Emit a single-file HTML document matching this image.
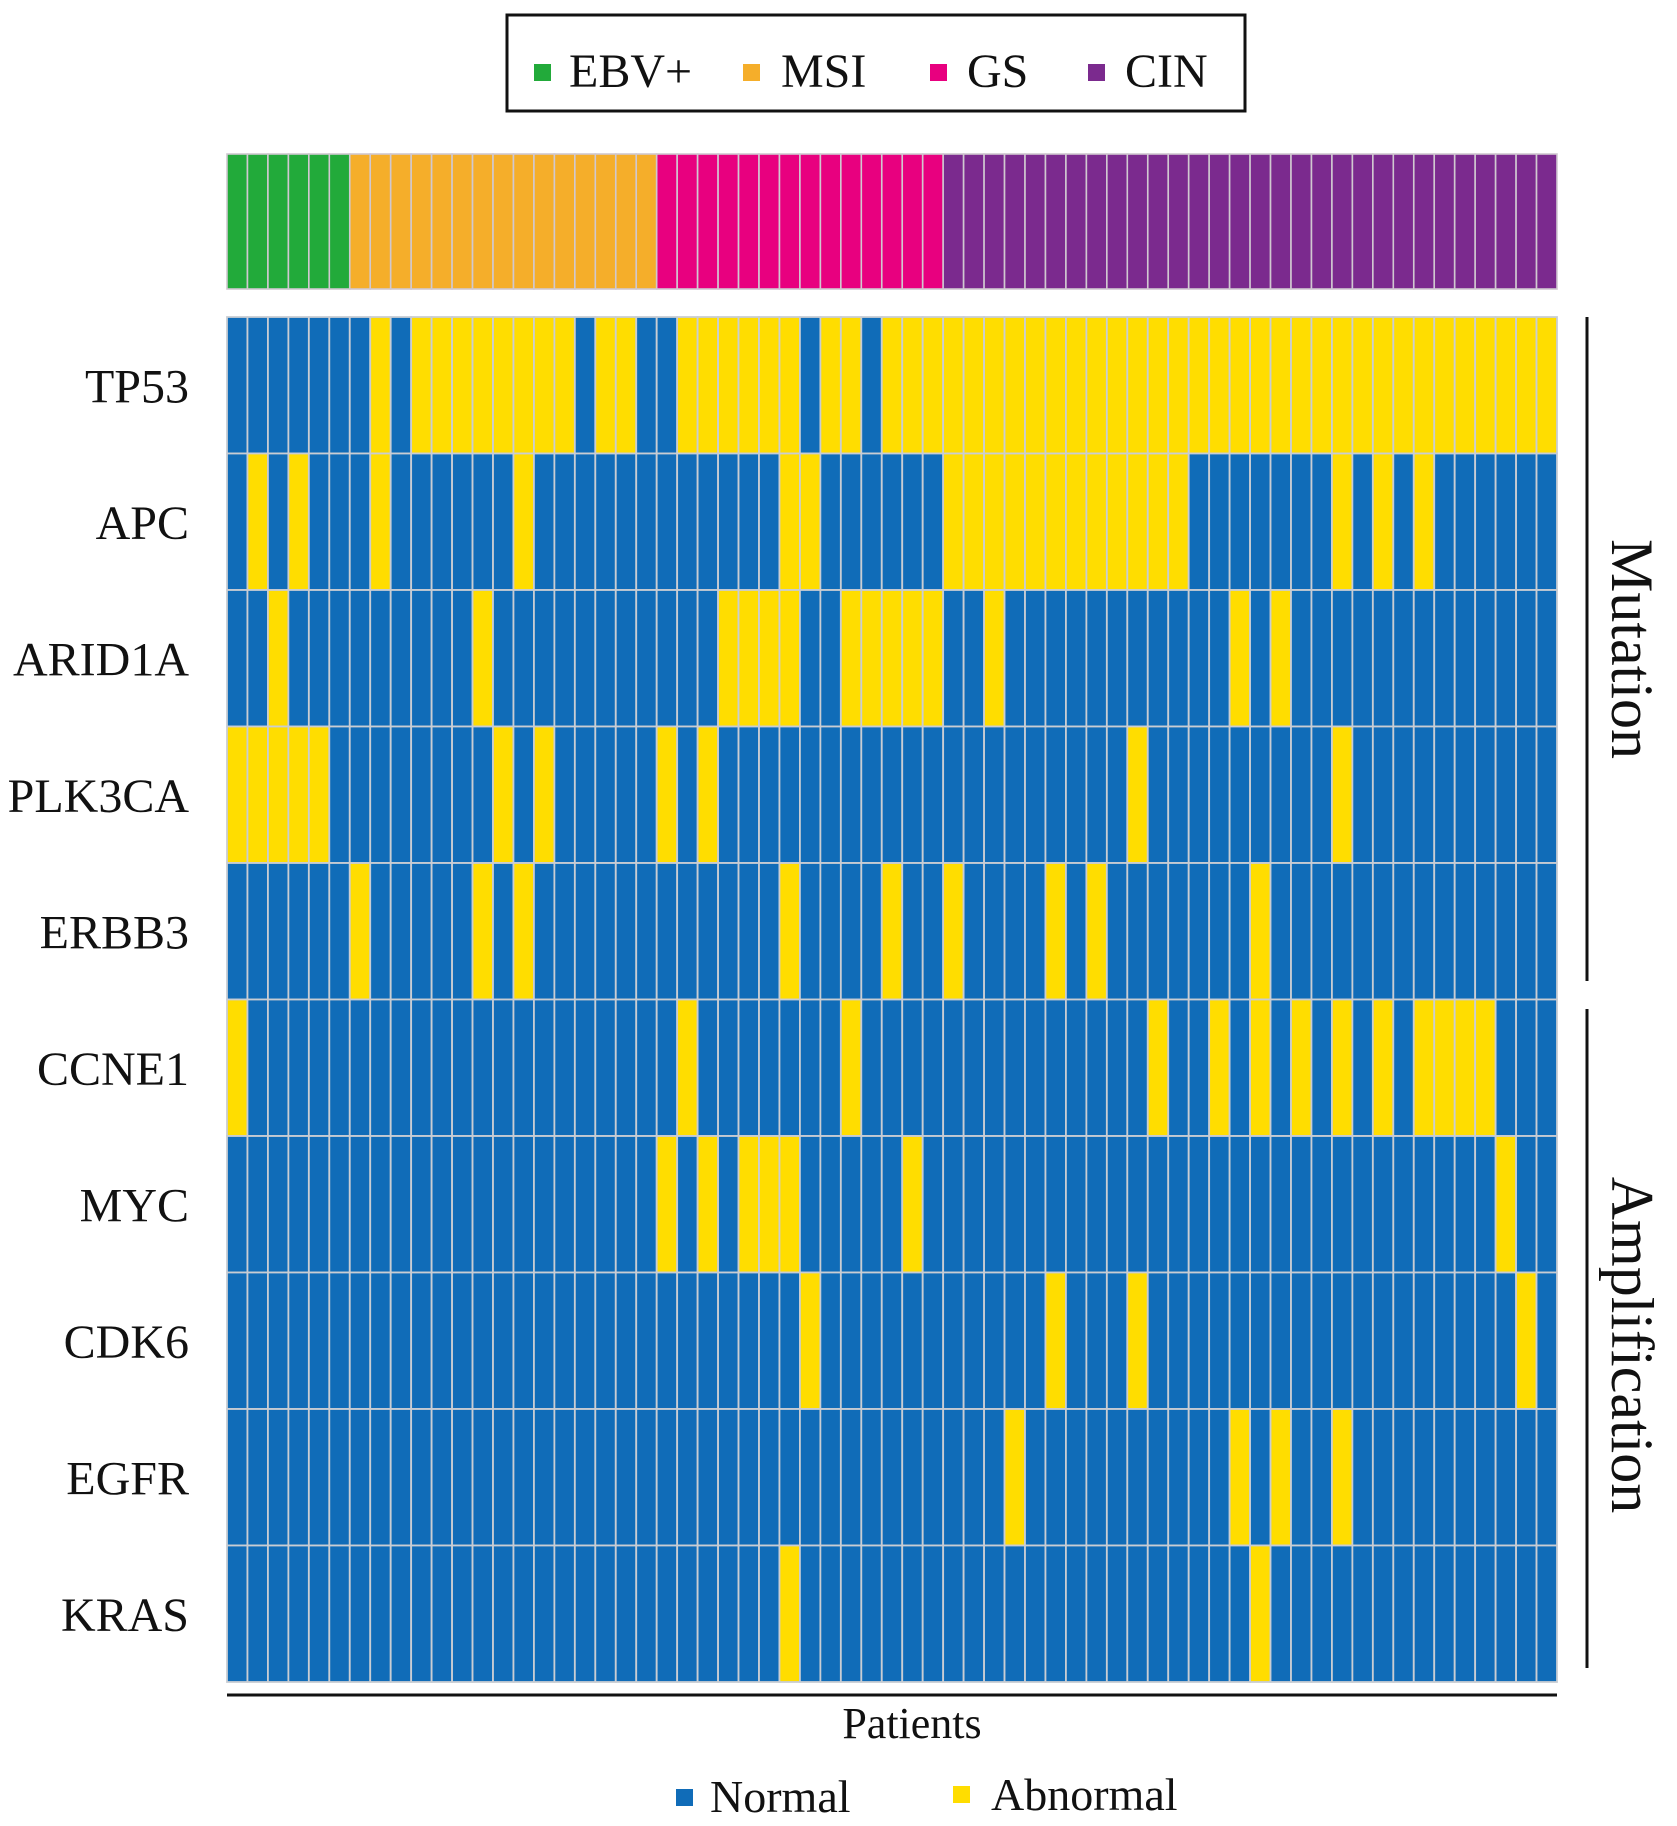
<!DOCTYPE html>
<html><head><meta charset="utf-8"><style>
html,body{margin:0;padding:0;background:#fff;}
svg{display:block;}
text{font-family:"Liberation Serif",serif;fill:#111;}
</style></head><body>
<svg id="chart" width="1677" height="1826" viewBox="0 0 1677 1826" xmlns="http://www.w3.org/2000/svg">
<g>
<rect x="507" y="15" width="738" height="96" fill="#fff" stroke="#111" stroke-width="3"/>
<rect x="534" y="64" width="17" height="17" fill="#22aa3a"/>
<text x="569" y="87" font-size="48">EBV+</text>
<rect x="743" y="64" width="17" height="17" fill="#f5ae2a"/>
<text x="781" y="87" font-size="48">MSI</text>
<rect x="930" y="64" width="17" height="17" fill="#e8007f"/>
<text x="967" y="87" font-size="48">GS</text>
<rect x="1088" y="64" width="17" height="17" fill="#7b2a8e"/>
<text x="1125" y="87" font-size="48">CIN</text>
</g>
<g id="annot"></g>
<g id="heat"></g>
<g id="labels"></g>
<line x1="227" y1="1695" x2="1557" y2="1695" stroke="#111" stroke-width="3"/>
<text x="912" y="1738" font-size="44" text-anchor="middle">Patients</text>
<line x1="1587" y1="317" x2="1587" y2="981" stroke="#111" stroke-width="3"/>
<line x1="1587" y1="1009" x2="1587" y2="1668" stroke="#111" stroke-width="3"/>
<text transform="translate(1612,649) rotate(90)" font-size="60" text-anchor="middle">Mutation</text>
<text transform="translate(1612,1345) rotate(90)" font-size="60" text-anchor="middle">Amplification</text>
<g>
<rect x="676" y="1789" width="17" height="17" fill="#106cb8"/>
<text x="710" y="1812" font-size="46">Normal</text>
<rect x="953" y="1786" width="17" height="17" fill="#ffdd00"/>
<text x="991" y="1810" font-size="46">Abnormal</text>
</g>
</svg>
<script>
const genes = ["TP53","APC","ARID1A","PLK3CA","ERBB3","CCNE1","MYC","CDK6","EGFR","KRAS"];
const subtypeNames = ["EBV+","MSI","GS","CIN"];
const subtypeCounts = [6,15,14,30];
const subtypeColors = ["#22aa3a","#f5ae2a","#e8007f","#7b2a8e"];
const nPatients = 65;
// abnormal patient indices per gene
const tp53Abn = [7,9,10,11,12,13,14,15,16,18,19,22,23,24,25,26,27,29,30,32,33,34,35,36,37,38,39,40,41,42,43,44,45,46,47,48,49,50,51,52,53,54,55,56,57,58,59,60,61,62,63,64];
const apcAbn = [1,3,7,14,27,28,35,36,37,38,39,40,41,42,43,44,45,46,54,56,58];
const arid1aAbn = [2,12,24,25,26,27,30,31,32,33,34,37,49,51];
const plk3caAbn = [0,1,2,3,4,13,15,21,23,44,54];
const erbb3Abn = [6,12,14,27,32,35,40,42,50];
const ccne1Abn = [0,22,30,45,48,50,52,54,56,58,59,60,61];
const mycAbn = [21,23,25,26,27,33,62];
const cdk6Abn = [28,40,44,63];
const egfrAbn = [38,49,51,54];
const krasAbn = [27,50];
const abnormal = [tp53Abn,apcAbn,arid1aAbn,plk3caAbn,erbb3Abn,ccne1Abn,mycAbn,cdk6Abn,egfrAbn,krasAbn];

const NS="http://www.w3.org/2000/svg";
const X0=227, X1=1557, Y0=317, Y1=1682, AY0=154, AY1=289;
const cw=(X1-X0)/nPatients, rh=(Y1-Y0)/genes.length;
const xPos=i=>X0+i*cw, yPos=r=>Y0+r*rh;
const annot=document.getElementById('annot'), heat=document.getElementById('heat'), labels=document.getElementById('labels');
function mk(tag,attrs){const e=document.createElementNS(NS,tag);for(const k in attrs)e.setAttribute(k,attrs[k]);return e;}
let p=0;
subtypeCounts.forEach((c,g)=>{
  for(let k=0;k<c;k++,p++){
    const r=mk('rect',{x:xPos(p),y:AY0,width:cw,height:AY1-AY0,fill:subtypeColors[g],stroke:"#d0c8d0","stroke-width":1.6});
    
    
    annot.appendChild(r);
  }
});
genes.forEach((g,r)=>{
  const set=new Set(abnormal[r]);
  for(let i=0;i<nPatients;i++){
    const c=mk('rect',{x:xPos(i),y:yPos(r),width:cw,height:rh,fill:set.has(i)?"#ffdd00":"#106cb8",stroke:"#c9cdd3","stroke-width":1.8});
    
    
    heat.appendChild(c);
  }
  const t=mk('text',{x:189,y:yPos(r)+rh/2+17,"font-size":48,"text-anchor":"end"});
  t.textContent=g;
  
  
  labels.appendChild(t);
});
</script>
</body></html>
